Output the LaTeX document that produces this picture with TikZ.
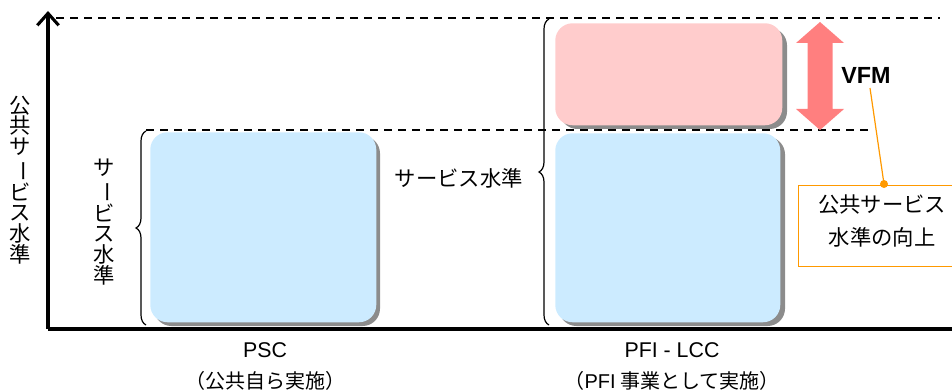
\documentclass[tikz,border=0pt]{standalone}
\usepackage{fontspec}
\setmainfont{Liberation Sans}
\newfontfamily\jp{Noto Sans CJK JP}
\usetikzlibrary{arrows.meta,decorations.pathreplacing,shadows}
\definecolor{boxblue}{HTML}{CCEBFF}
\definecolor{boxpink}{HTML}{FFCCCC}
\definecolor{vfmred}{HTML}{FF7F7F}
\definecolor{shadowgray}{HTML}{8C8C8C}
\definecolor{calloutorange}{HTML}{FF9900}
\tikzset{
  lvl/.style={line width=1.3pt, dash pattern=on 6pt off 4.5pt},
  axisline/.style={line width=2.3pt},
  jptext/.style={font=\jp\fontsize{15}{15.5}\selectfont, inner sep=0pt},
  jpbig/.style={font=\jp\fontsize{16}{15.5}\selectfont, inner sep=0pt},
  lattext/.style={font=\fontsize{16}{18}\selectfont, inner sep=0pt},
  bracestyle/.style={decorate, decoration={brace, amplitude=7.5pt}, line width=0.9pt},
}
\newcommand{\vbar}{\rotatebox[origin=c]{-90}{ー}}
\begin{document}
\begin{tikzpicture}[x=0.75pt,y=-0.75pt]
\useasboundingbox (0,0) rectangle (952,392);
% level lines
\draw[lvl] (56,18) -- (940,18);
\draw[lvl] (146,130) -- (873,130);
% boxes with shadows
\fill[shadowgray, rounded corners=13pt] (154,136) rectangle (380,326);
\node[fill=boxblue, rounded corners=13pt, minimum width=226*0.75pt, minimum height=190*0.75pt, inner sep=0pt, anchor=north west] (psc) at (150,132) {};
\fill[shadowgray, rounded corners=13pt] (559,137) rectangle (785,326);
\node[fill=boxblue, rounded corners=13pt, minimum width=225*0.75pt, minimum height=189*0.75pt, inner sep=0pt, anchor=north west] (pfi) at (555,133) {};
\fill[shadowgray, rounded corners=13pt] (560,28) rectangle (787,129);
\node[fill=boxpink, rounded corners=13pt, minimum width=227*0.75pt, minimum height=102*0.75pt, inner sep=0pt, anchor=north west] (vfmbox) at (555,23) {};
% axes
\coordinate (origin) at (48,329);
\coordinate (ytop) at (48,11);
\coordinate (xend) at (952,329);
\draw[axisline, -{Straight Barb[length=9pt,width=16pt]}] (origin) -- (ytop);
\draw[axisline] (origin) -- (xend);
% VFM double arrow
\fill[vfmred] (820,22) -- (844,43) -- (832.5,43) -- (832.5,109) -- (844,109) -- (820,130)
  -- (796,109) -- (807.5,109) -- (807.5,43) -- (796,43) -- cycle;
\node[font=\bfseries\fontsize{17.5}{19}\selectfont, inner sep=0pt, anchor=west] (vfm) at (841,75) {VFM};
% callout
\node[draw=calloutorange, line width=1pt, fill=white, anchor=north west, minimum width=170*0.75pt, minimum height=81*0.75pt, inner sep=0pt] (callout) at (798,185) {};
\node[jpbig, align=center] (callouttext) at (882,221) {公共サービス\\[9pt]水準の向上};
\coordinate (calltip) at (884,184);
\draw[calloutorange, line width=0.9pt] (870,88) -- (calltip);
\fill[calloutorange] (calltip) circle (4);
% braces
\draw[bracestyle] (146,325) -- (146,131);
\draw[bracestyle] (549,325) -- (549,19);
% labels
\node[jpbig, align=center] (ylabel) at (20,180) {公\\共\\サ\\\vbar\\ビ\\ス\\水\\準};
\node[jpbig, align=center] (psclevel) at (104,222) {サ\\\vbar\\ビ\\ス\\水\\準};
\node[jpbig, anchor=east] (pfilevel) at (523,178) {サービス水準};
\node[lattext] (psclab) at (265,350) {PSC};
\node[jptext] (psclab2) at (265,381) {（公共自ら実施）};
\node[lattext] (pfilab) at (672,350) {PFI - LCC};
\node[jptext] (pfilab2) at (672,381) {\jp（{\rmfamily PFI} 事業として実施）};
\end{tikzpicture}
\end{document}
